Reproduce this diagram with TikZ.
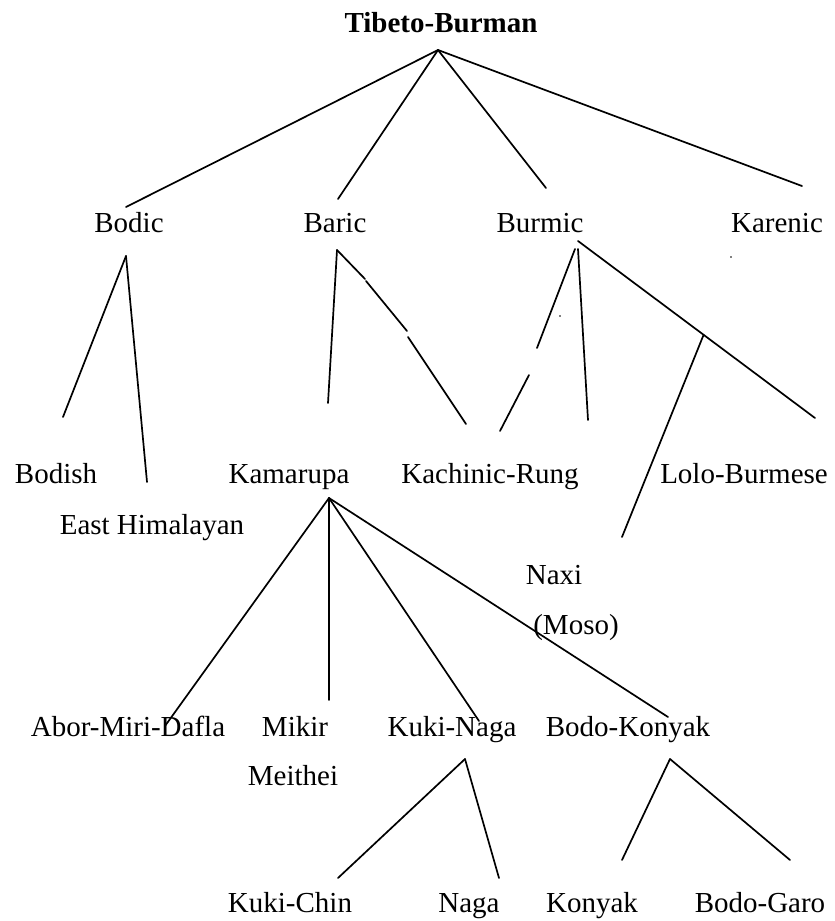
\documentclass[tikz,border=0pt]{standalone}
\usepackage{fontspec}
\setmainfont{Liberation Serif}
\usetikzlibrary{calc}
\begin{document}
\begin{tikzpicture}[x=1pt,y=-1pt,
  lbl/.style={inner sep=0pt, anchor=base, font=\fontsize{29}{34}\selectfont},
  root/.style={lbl, font=\fontsize{29}{34}\selectfont\bfseries},
  branch/.style={line width=1.7pt, line cap=round},
  speck/.style={fill=black, inner sep=0pt, minimum size=1.8pt, circle}]
\useasboundingbox (0,0) rectangle (835,921);
% ---- labels ----
\node[root] (tb) at (441,32) {Tibeto-Burman};
\node[lbl] (bodic) at (129,232) {Bodic};
\node[lbl] (baric) at (335,232) {Baric};
\node[lbl] (burmic) at (540,232) {Burmic};
\node[lbl] (karenic) at (777,232) {Karenic};
\node[lbl] (bodish) at (56,483) {Bodish};
\node[lbl] (easthim) at (152,534) {East Himalayan};
\node[lbl] (kamarupa) at (289,483) {Kamarupa};
\node[lbl] (kachinic) at (490,483) {Kachinic-Rung};
\node[lbl] (lolo) at (744,483) {Lolo-Burmese};
\node[lbl] (naxi) at (554,584) {Naxi};
\node[lbl] (moso) at (576,634) {(Moso)};
\node[lbl] (abor) at (128,736) {Abor-Miri-Dafla};
\node[lbl] (mikir) at (295,736) {Mikir};
\node[lbl] (meithei) at (293,785) {Meithei};
\node[lbl] (kukinaga) at (452,736) {Kuki-Naga};
\node[lbl] (bodokonyak) at (628,736) {Bodo-Konyak};
\node[lbl] (kukichin) at (290,912) {Kuki-Chin};
\node[lbl] (naga) at (469,912) {Naga};
\node[lbl] (konyak) at (592,912) {Konyak};
\node[lbl] (bodogaro) at (760,912) {Bodo-Garo};
% ---- connector end points ----
\coordinate (tbT) at (438,50);
\coordinate (bodicB) at (126,207);
\coordinate (baricB) at (338,199);
\coordinate (burmicB) at (546,188);
\coordinate (karenicB) at (802,186);
\coordinate (bodicT) at (126,256);
\coordinate (bodishB) at (63,417);
\coordinate (easthimB) at (147,482);
\coordinate (baricT) at (337,250);
\coordinate (kamarupaB) at (328,403);
\coordinate (baricK1) at (365,279);
\coordinate (baricK2) at (366,281);
\coordinate (baricG1) at (407,331);
\coordinate (baricG2) at (408,337);
\coordinate (kachinicB1) at (466,424);
\coordinate (burmicT1) at (575,249);
\coordinate (burmicT2) at (578,249);
\coordinate (burmicT3) at (578,241);
\coordinate (burmicG1) at (537,348);
\coordinate (burmicG2) at (529,375);
\coordinate (kachinicB2) at (500,431);
\coordinate (burmicV) at (588,420);
\coordinate (loloB) at (815,418);
\coordinate (loloJ) at ($(burmicT3)!0.53!(loloB)$);
\coordinate (naxiB) at (622,537);
\coordinate (kamarupaT) at (329,498);
\coordinate (aborB) at (165,726);
\coordinate (mikirB) at (329,700);
\coordinate (kukinagaB) at (479,721);
\coordinate (bodokonyakB) at (668,717);
\coordinate (kukinagaT) at (465,759);
\coordinate (kukichinB) at (338,878);
\coordinate (nagaB) at (499,878);
\coordinate (bodokonyakT) at (670,759);
\coordinate (konyakB) at (622,860);
\coordinate (bodogaroB) at (790,860);
% ---- connectors ----
\draw[branch] (tbT) -- (bodicB);
\draw[branch] (tbT) -- (baricB);
\draw[branch] (tbT) -- (burmicB);
\draw[branch] (tbT) -- (karenicB);
\draw[branch] (bodicT) -- (bodishB);
\draw[branch] (bodicT) -- (easthimB);
\draw[branch] (baricT) -- (kamarupaB);
\draw[branch] (baricT) -- (baricK1);
\draw[branch] (baricK2) -- (baricG1);
\draw[branch] (baricG2) -- (kachinicB1);
\draw[branch] (burmicT1) -- (burmicG1);
\draw[branch] (burmicG2) -- (kachinicB2);
\draw[branch] (burmicT2) -- (burmicV);
\draw[branch] (burmicT3) -- (loloB);
\draw[branch] (loloJ) -- (naxiB);
\draw[branch] (kamarupaT) -- (aborB);
\draw[branch] (kamarupaT) -- (mikirB);
\draw[branch] (kamarupaT) -- (kukinagaB);
\draw[branch] (kamarupaT) -- (bodokonyakB);
\draw[branch] (kukinagaT) -- (kukichinB);
\draw[branch] (kukinagaT) -- (nagaB);
\draw[branch] (bodokonyakT) -- (konyakB);
\draw[branch] (bodokonyakT) -- (bodogaroB);
% ---- stray specks ----
\node[speck] (speck1) at (560,316) {};
\node[speck] (speck2) at (731,257) {};
\end{tikzpicture}
\end{document}
